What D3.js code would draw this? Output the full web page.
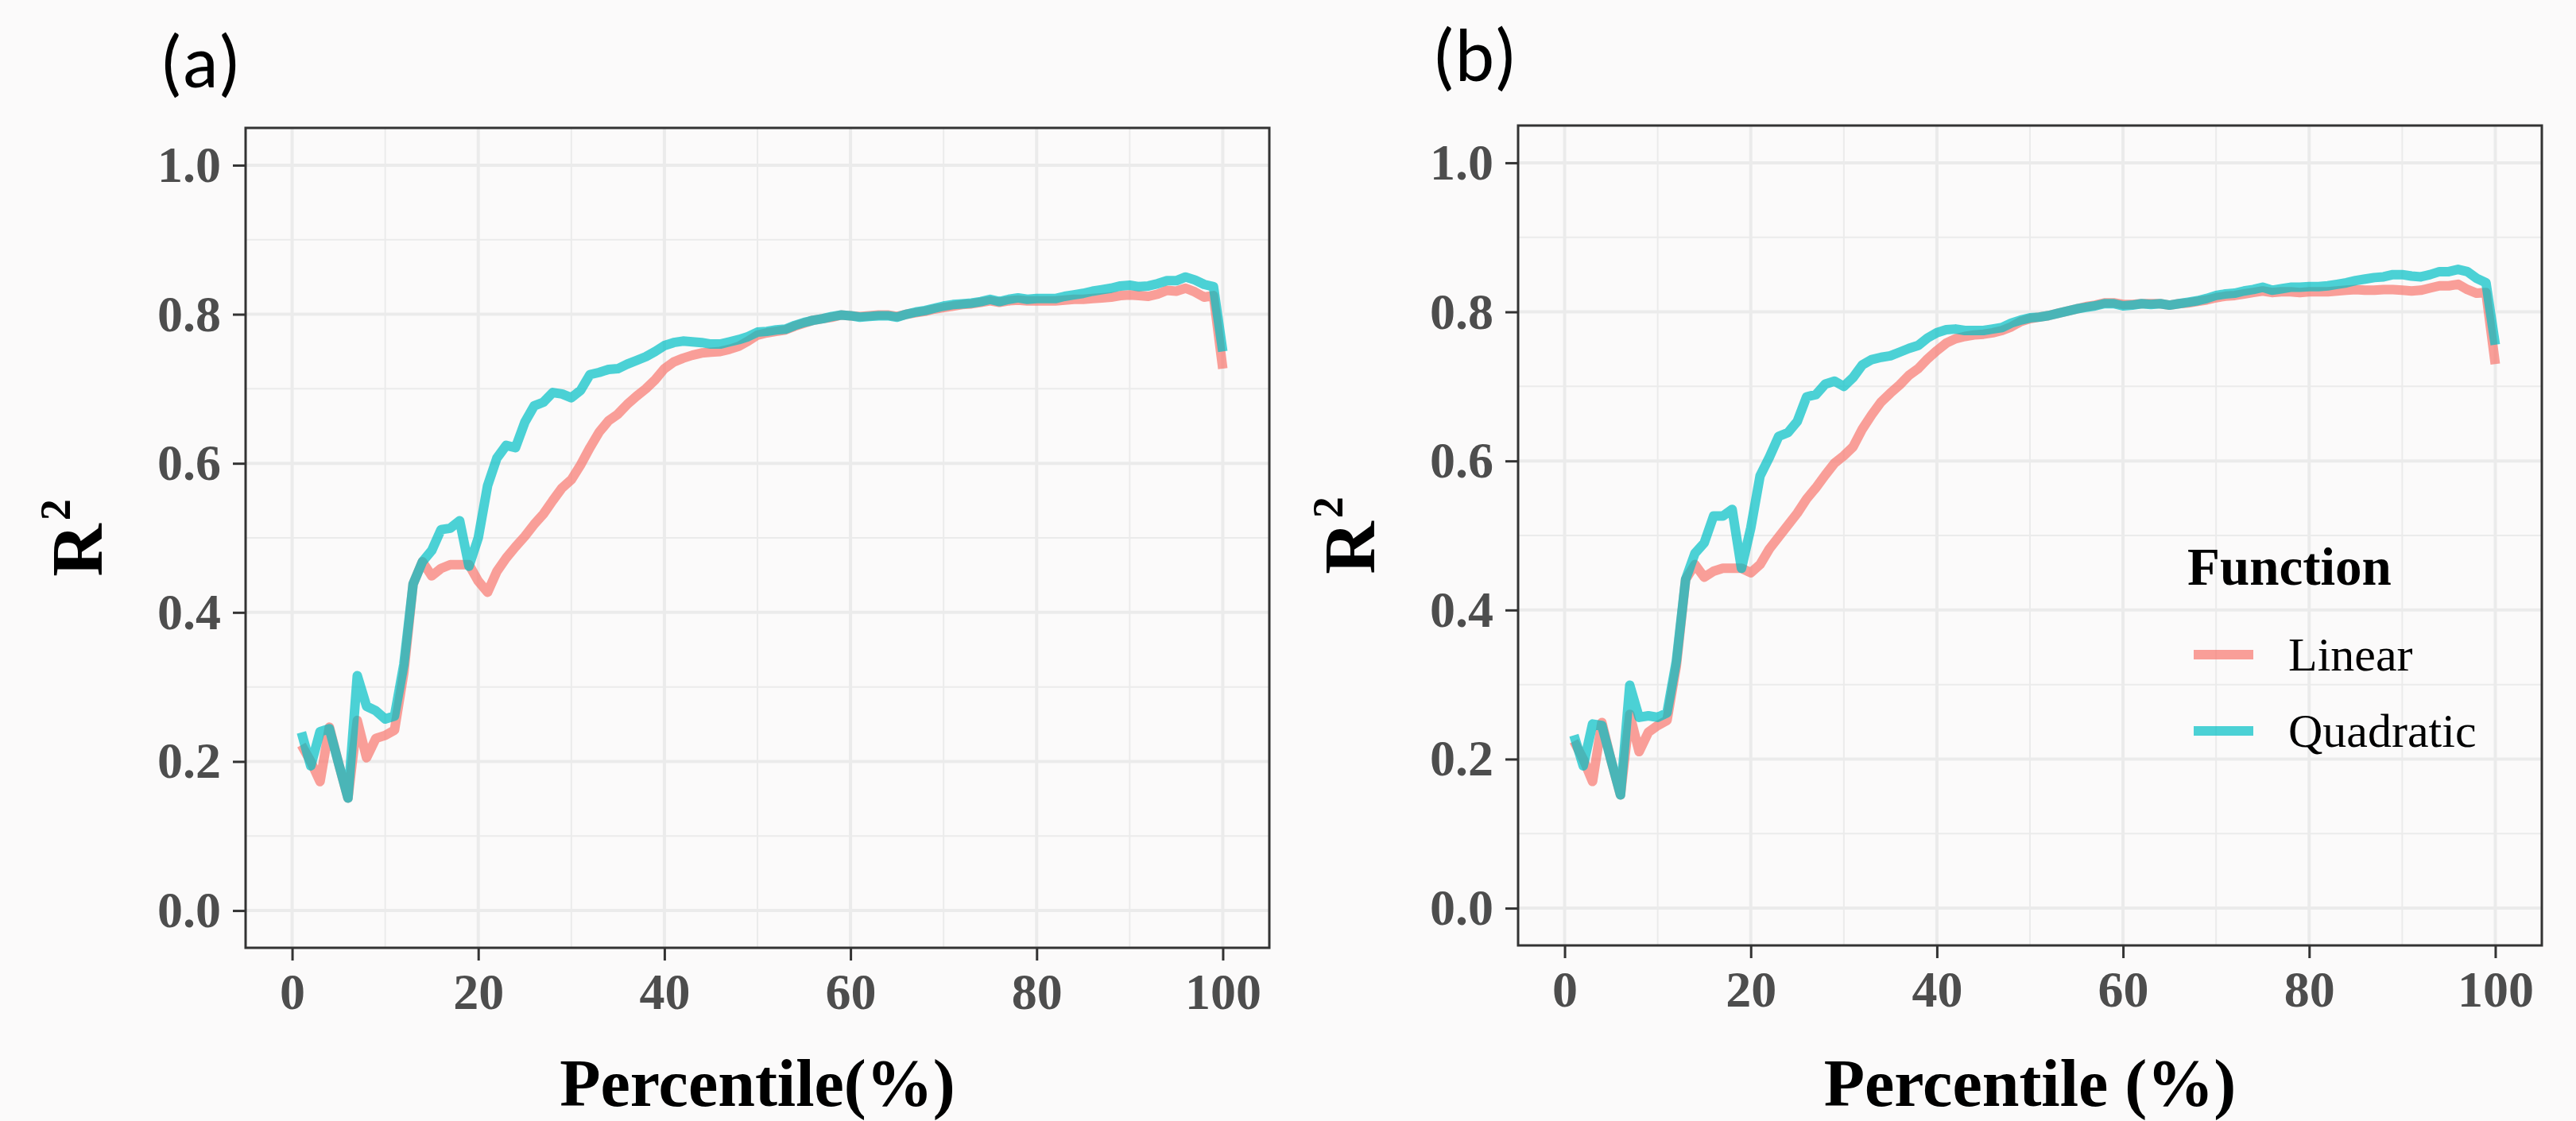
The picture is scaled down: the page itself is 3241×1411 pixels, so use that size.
<!DOCTYPE html>
<html>
<head>
<meta charset="utf-8">
<script src="https://cdn.jsdelivr.net/npm/d3@7/dist/d3.min.js"></script>
<style>
  html, body { margin: 0; padding: 0; background: #fbfafa; }
  svg { display: block; }
</style>
</head>
<body>
<script>
// percentile (x) shared by both panels
const percentile = [
   1,  2,  3,  4,  5,  6,  7,  8,  9, 10, 11, 12, 13, 14, 15, 16, 17, 18, 19, 20,
  21, 22, 23, 24, 25, 26, 27, 28, 29, 30, 31, 32, 33, 34, 35, 36, 37, 38, 39, 40,
  41, 42, 43, 44, 45, 46, 47, 48, 49, 50, 51, 52, 53, 54, 55, 56, 57, 58, 59, 60,
  61, 62, 63, 64, 65, 66, 67, 68, 69, 70, 71, 72, 73, 74, 75, 76, 77, 78, 79, 80,
  81, 82, 83, 84, 85, 86, 87, 88, 89, 90, 91, 92, 93, 94, 95, 96, 97, 98, 99, 100
];

// panel (a)
const linear_a = [
  0.222, 0.200, 0.173, 0.246, 0.197, 0.151, 0.255, 0.205, 0.231, 0.235,
  0.242, 0.319, 0.438, 0.468, 0.449, 0.459, 0.464, 0.464, 0.464, 0.442,
  0.427, 0.455, 0.473, 0.488, 0.502, 0.518, 0.532, 0.550, 0.567, 0.578,
  0.598, 0.621, 0.642, 0.657, 0.666, 0.679, 0.690, 0.700, 0.712, 0.727,
  0.736, 0.741, 0.745, 0.748, 0.749, 0.750, 0.753, 0.757, 0.764, 0.772,
  0.775, 0.777, 0.779, 0.784, 0.788, 0.792, 0.794, 0.796, 0.799, 0.798,
  0.797, 0.798, 0.799, 0.799, 0.797, 0.800, 0.802, 0.804, 0.807, 0.809,
  0.811, 0.813, 0.814, 0.816, 0.818, 0.816, 0.818, 0.819, 0.818, 0.818,
  0.818, 0.818, 0.819, 0.820, 0.820, 0.821, 0.822, 0.823, 0.825, 0.826,
  0.825, 0.824, 0.827, 0.832, 0.831, 0.835, 0.830, 0.823, 0.825, 0.727
];

const quadratic_a = [
  0.239, 0.194, 0.240, 0.244, 0.197, 0.151, 0.315, 0.274, 0.268, 0.257,
  0.261, 0.330, 0.438, 0.468, 0.483, 0.511, 0.513, 0.523, 0.462, 0.500,
  0.570, 0.607, 0.624, 0.621, 0.655, 0.677, 0.682, 0.695, 0.693, 0.688,
  0.698, 0.719, 0.722, 0.726, 0.727, 0.733, 0.738, 0.743, 0.750, 0.758,
  0.762, 0.764, 0.763, 0.762, 0.760, 0.760, 0.763, 0.766, 0.770, 0.776,
  0.777, 0.779, 0.780, 0.785, 0.789, 0.792, 0.794, 0.797, 0.799, 0.798,
  0.796, 0.797, 0.798, 0.798, 0.796, 0.800, 0.803, 0.805, 0.808, 0.811,
  0.813, 0.814, 0.815, 0.817, 0.820, 0.817, 0.820, 0.822, 0.820, 0.821,
  0.821, 0.821, 0.824, 0.826, 0.828, 0.831, 0.833, 0.835, 0.838, 0.839,
  0.837, 0.838, 0.841, 0.845, 0.845, 0.850, 0.846, 0.840, 0.837, 0.750
];

// panel (b)
const linear_b = [
  0.224, 0.200, 0.170, 0.249, 0.198, 0.152, 0.260, 0.210, 0.236, 0.245,
  0.252, 0.325, 0.441, 0.461, 0.444, 0.452, 0.456, 0.456, 0.456, 0.450,
  0.461, 0.482, 0.498, 0.514, 0.530, 0.549, 0.564, 0.581, 0.597, 0.607,
  0.619, 0.643, 0.662, 0.679, 0.691, 0.702, 0.715, 0.724, 0.737, 0.748,
  0.758, 0.764, 0.767, 0.769, 0.770, 0.772, 0.775, 0.780, 0.787, 0.791,
  0.793, 0.795, 0.798, 0.801, 0.804, 0.807, 0.809, 0.812, 0.812, 0.810,
  0.810, 0.811, 0.811, 0.811, 0.809, 0.811, 0.812, 0.814, 0.816, 0.819,
  0.821, 0.822, 0.824, 0.826, 0.828, 0.826, 0.827, 0.827, 0.826, 0.827,
  0.827, 0.827, 0.828, 0.829, 0.830, 0.829, 0.829, 0.830, 0.830, 0.829,
  0.828, 0.829, 0.832, 0.835, 0.835, 0.837, 0.830, 0.825, 0.826, 0.730
];

const quadratic_b = [
  0.232, 0.191, 0.247, 0.245, 0.198, 0.152, 0.299, 0.256, 0.258, 0.256,
  0.262, 0.331, 0.441, 0.476, 0.490, 0.526, 0.526, 0.535, 0.456, 0.510,
  0.580, 0.605, 0.633, 0.638, 0.653, 0.686, 0.689, 0.703, 0.707, 0.700,
  0.712, 0.729, 0.736, 0.739, 0.741, 0.746, 0.751, 0.755, 0.765, 0.772,
  0.776, 0.777, 0.775, 0.775, 0.775, 0.777, 0.779, 0.785, 0.789, 0.792,
  0.793, 0.795, 0.798, 0.801, 0.804, 0.806, 0.808, 0.811, 0.811, 0.808,
  0.809, 0.811, 0.810, 0.811, 0.809, 0.811, 0.813, 0.815, 0.818, 0.822,
  0.824, 0.825, 0.828, 0.830, 0.833, 0.829, 0.831, 0.833, 0.833, 0.834,
  0.834, 0.835, 0.837, 0.839, 0.842, 0.844, 0.846, 0.847, 0.850, 0.850,
  0.848, 0.847, 0.850, 0.854, 0.854, 0.857, 0.854, 0.845, 0.839, 0.756
];

const functions   = ['Linear', 'Quadratic'];
const x_ticks     = [0, 20, 40, 60, 80, 100];
const x_minor     = [10, 30, 50, 70, 90];
const y_ticks     = [0, 0.2, 0.4, 0.6, 0.8, 1.0];
const y_minor     = [0.1, 0.3, 0.5, 0.7, 0.9];
const panel_tags  = ['(a)', '(b)'];
const x_titles    = ['Percentile(%)', 'Percentile (%)'];


const option =
  {
    width: 3241,
    height: 1411,
    background: '#fbfafa',
    serif: "'Palatino Linotype', 'Book Antiqua', Palatino, 'Liberation Serif', serif",
    sans: "Calibri, Carlito, 'Open Sans', sans-serif",
    panel:
      [
        { left: 309, top: 161, right: 1597, bottom: 1193 },
        { left: 1910, top: 158, right: 3198, bottom: 1190 }
      ],
    color: { Linear: '#F8766D', Quadratic: '#00BFC4' },
    line: { width: 12, opacity: 0.7 },
    grid: { color: '#ebebeb', major: 4, minor: 2 },
    axis: { color: '#333333', width: 3, tick: 16, padding: 16, font: 64, label: '#4d4d4d' },
    tag: { font: 94, dx: -108, y: [110, 102] },
    title: { font: 84, baseline: 1392 },
    ytitle: { font: 92, sup: 54, shift: 40, x: -181 },
    legend: { x: 2752, title_y: 736, font_title: 67, font: 60, key_x: 2760, key_len: 75, label_x: 2879, rows: [824, 920] }
  };


const svg = d3.select('body').append('svg')
  .attr('width', option.width)
  .attr('height', option.height)
  .attr('viewBox', `0 0 ${ option.width } ${ option.height }`)
;

svg.append('rect')
  .attr('width', option.width)
  .attr('height', option.height)
  .attr('fill', option.background)
;


function draw_panel(index, series)
{
  const box = option.panel[index];

  const x = d3.scaleLinear().domain([-5, 105]).range([box.left, box.right]);
  const y = d3.scaleLinear().domain([-0.05, 1.05]).range([box.bottom, box.top]);

  const g = svg.append('g');

  // grid, minor first
  const grid = g.append('g').attr('stroke', option.grid.color);

  grid.selectAll('line.xminor').data(x_minor).join('line')
    .attr('class', 'xminor')
    .attr('x1', d => x(d)).attr('x2', d => x(d))
    .attr('y1', box.top).attr('y2', box.bottom)
    .attr('stroke-width', option.grid.minor)
  ;

  grid.selectAll('line.yminor').data(y_minor).join('line')
    .attr('class', 'yminor')
    .attr('y1', d => y(d)).attr('y2', d => y(d))
    .attr('x1', box.left).attr('x2', box.right)
    .attr('stroke-width', option.grid.minor)
  ;

  grid.selectAll('line.xmajor').data(x_ticks).join('line')
    .attr('class', 'xmajor')
    .attr('x1', d => x(d)).attr('x2', d => x(d))
    .attr('y1', box.top).attr('y2', box.bottom)
    .attr('stroke-width', option.grid.major)
  ;

  grid.selectAll('line.ymajor').data(y_ticks).join('line')
    .attr('class', 'ymajor')
    .attr('y1', d => y(d)).attr('y2', d => y(d))
    .attr('x1', box.left).attr('x2', box.right)
    .attr('stroke-width', option.grid.major)
  ;

  // lines
  const line = d3.line()
    .x((d, i) => x(percentile[i]))
    .y(d => y(d))
  ;

  g.append('g').selectAll('path').data(functions).join('path')
    .attr('d', f => line(series[f]))
    .attr('fill', 'none')
    .attr('stroke', f => option.color[f])
    .attr('stroke-opacity', option.line.opacity)
    .attr('stroke-width', option.line.width)
    .attr('stroke-linejoin', 'round')
    .attr('stroke-linecap', 'butt')
  ;

  // border
  g.append('rect')
    .attr('x', box.left)
    .attr('y', box.top)
    .attr('width', box.right - box.left)
    .attr('height', box.bottom - box.top)
    .attr('fill', 'none')
    .attr('stroke', option.axis.color)
    .attr('stroke-width', option.axis.width)
  ;

  // axes
  const style_axis = s =>
  {
    s.select('.domain').remove();
    s.selectAll('.tick line')
      .attr('stroke', option.axis.color)
      .attr('stroke-width', option.axis.width)
    ;
    s.selectAll('.tick text')
      .attr('fill', option.axis.label)
      .attr('font-family', option.serif)
      .attr('font-weight', 'bold')
      .attr('font-size', option.axis.font)
    ;
  };

  g.append('g')
    .attr('transform', `translate( 0 ${ box.bottom } )`)
    .call(d3.axisBottom(x).tickValues(x_ticks).tickFormat(d3.format('d'))
      .tickSize(option.axis.tick).tickPadding(option.axis.padding))
    .call(style_axis)
  ;

  g.append('g')
    .attr('transform', `translate( ${ box.left } 0 )`)
    .call(d3.axisLeft(y).tickValues(y_ticks).tickFormat(d3.format('.1f'))
      .tickSize(option.axis.tick).tickPadding(option.axis.padding - 1))
    .call(style_axis)
  ;

  // x title
  svg.append('text')
    .text(x_titles[index])
    .attr('x', (box.left + box.right) / 2)
    .attr('y', option.title.baseline)
    .attr('text-anchor', 'middle')
    .attr('font-family', option.serif)
    .attr('font-weight', 'bold')
    .attr('font-size', option.title.font)
    .attr('fill', '#000')
  ;

  // y title R^2
  const yt = svg.append('text')
    .attr('transform', `translate( ${ box.left + option.ytitle.x } ${ (box.top + box.bottom) / 2 } ) rotate(-90)`)
    .attr('text-anchor', 'middle')
    .attr('font-family', option.serif)
    .attr('font-weight', 'bold')
    .attr('font-size', option.ytitle.font)
    .attr('fill', '#000')
  ;

  yt.append('tspan').text('R');
  yt.append('tspan').text('2')
    .attr('dx', 4)
    .attr('dy', -option.ytitle.shift)
    .attr('font-size', option.ytitle.sup)
  ;

  // panel tag
  svg.append('text')
    .text(panel_tags[index])
    .attr('x', box.left + option.tag.dx)
    .attr('y', option.tag.y[index])
    .attr('font-family', option.sans)
    .attr('font-size', option.tag.font)
    .attr('fill', '#000')
  ;
}


function draw_legend()
{
  const l = option.legend;

  const g = svg.append('g');

  g.append('text')
    .text('Function')
    .attr('x', l.x)
    .attr('y', l.title_y)
    .attr('font-family', option.serif)
    .attr('font-weight', 'bold')
    .attr('font-size', l.font_title)
    .attr('fill', '#000')
  ;

  const row = g.selectAll('g.row').data(functions).join('g')
    .attr('class', 'row')
    .attr('transform', (d, i) => `translate( 0 ${ l.rows[i] } )`)
  ;

  row.append('line')
    .attr('x1', l.key_x)
    .attr('x2', l.key_x + l.key_len)
    .attr('stroke', d => option.color[d])
    .attr('stroke-opacity', option.line.opacity)
    .attr('stroke-width', option.line.width)
  ;

  row.append('text')
    .text(d => d)
    .attr('x', l.label_x)
    .attr('y', 20)
    .attr('font-family', option.serif)
    .attr('font-size', l.font)
    .attr('fill', '#000')
  ;
}


draw_panel(0, { Linear: linear_a, Quadratic: quadratic_a });
draw_panel(1, { Linear: linear_b, Quadratic: quadratic_b });
draw_legend();
</script>
</body>
</html>
